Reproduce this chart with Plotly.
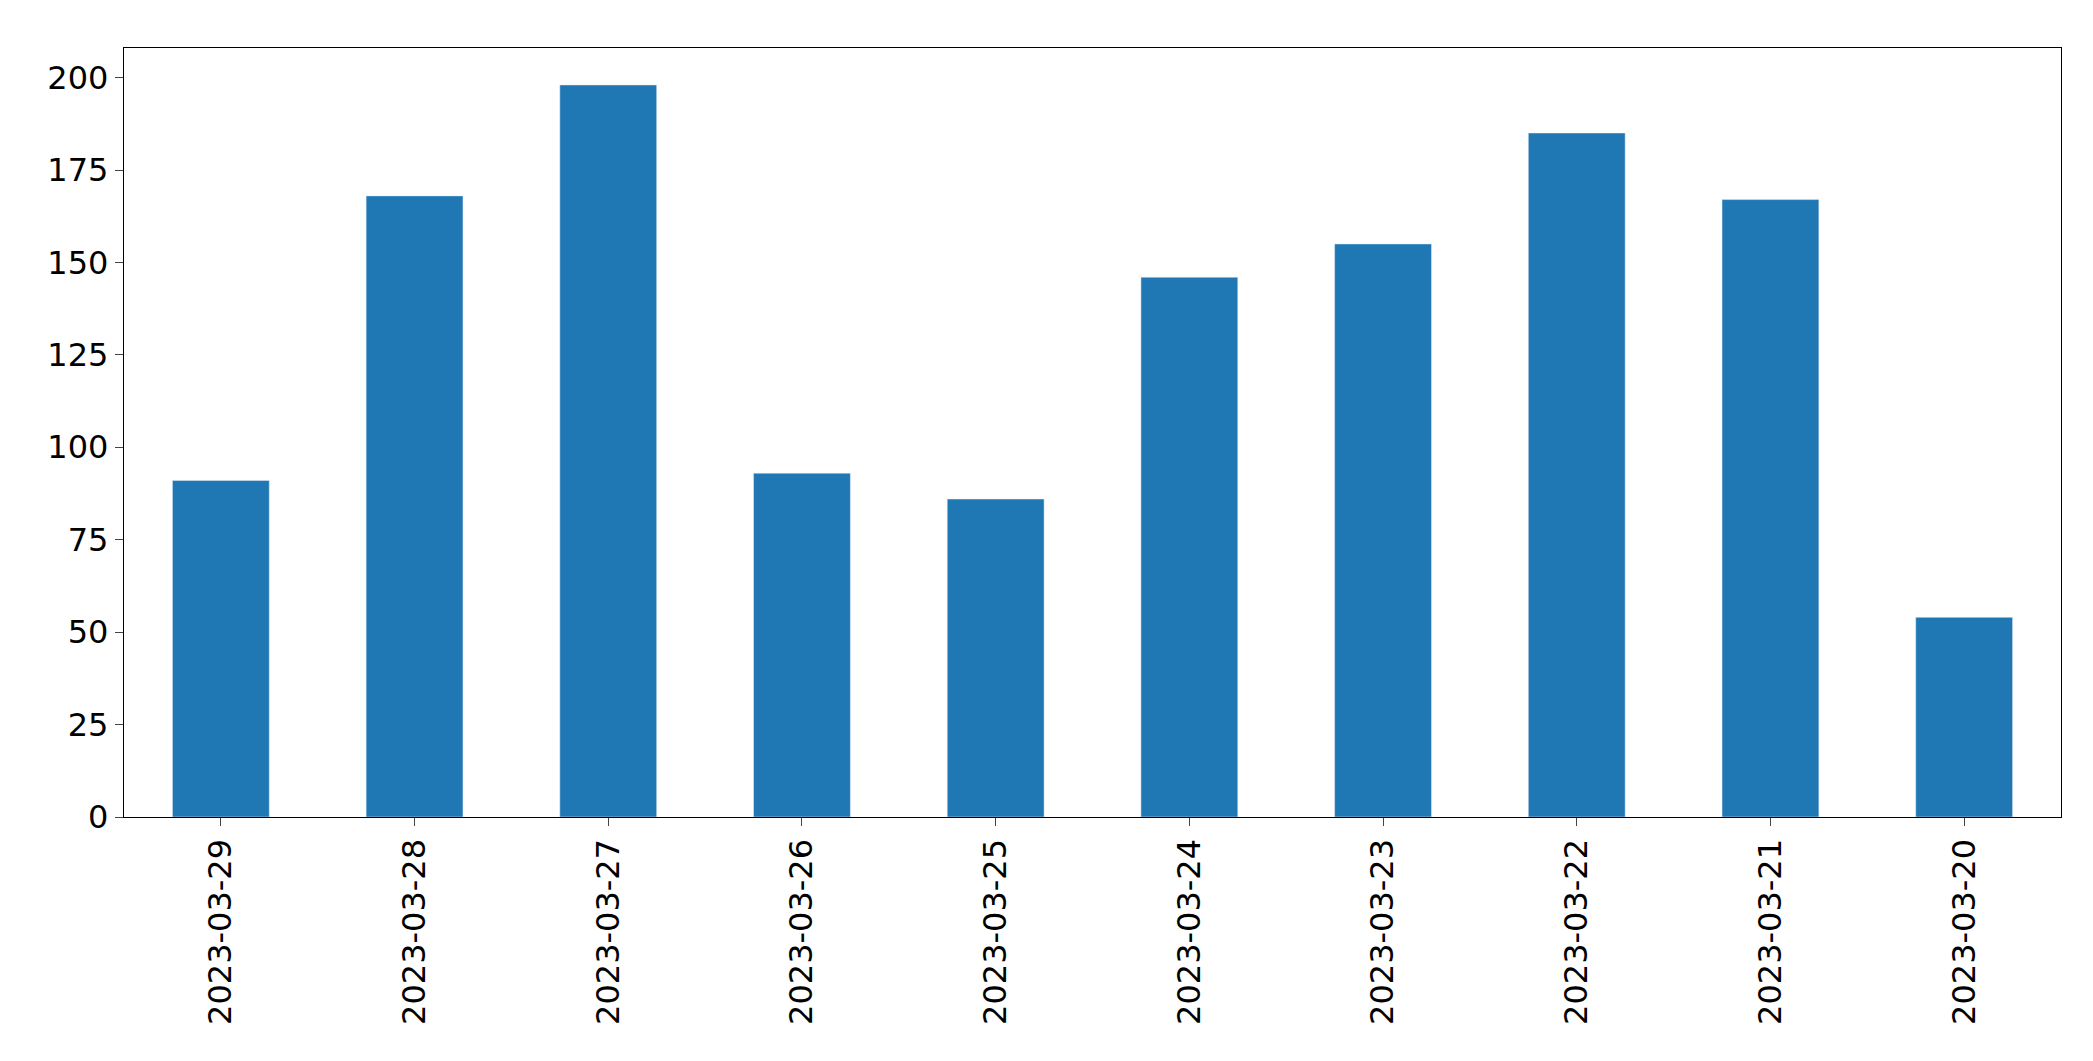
import plotly.graph_objects as go

dates = ["2023-03-29","2023-03-28","2023-03-27","2023-03-26","2023-03-25",
         "2023-03-24","2023-03-23","2023-03-22","2023-03-21","2023-03-20"]
values = [91, 168, 198, 93, 86, 146, 155, 185, 167, 54]

fig = go.Figure(go.Bar(x=dates, y=values, marker_color="#1f77b4", width=0.5))
fig.update_layout(
    width=2093, height=1061, plot_bgcolor="white", paper_bgcolor="white",
    margin=dict(l=116, r=40, t=40, b=252), showlegend=False,
    font=dict(family="DejaVu Sans", size=32, color="black"),
)
fig.update_xaxes(type="category", tickangle=-90, showline=True, linecolor="black",
                 linewidth=1.3, mirror=True, ticks="outside", ticklen=8, showgrid=False,
                 range=[-0.5, 9.5])
fig.update_yaxes(range=[0, 208], tickvals=[0,25,50,75,100,125,150,175,200],
                 showline=True, linecolor="black", linewidth=1.3, mirror=True,
                 ticks="outside", ticklen=8, showgrid=False, zeroline=False)
fig.write_html("out.html")
